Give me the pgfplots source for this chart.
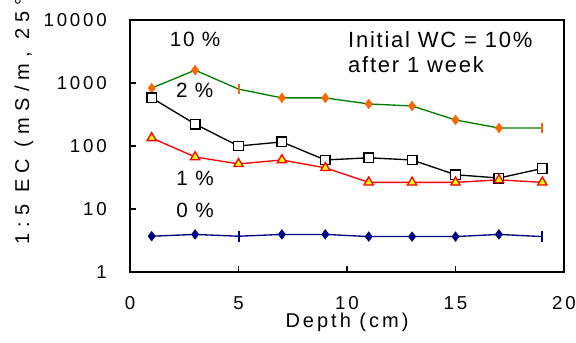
\documentclass[border=0pt]{standalone}
\usepackage{fontspec}
\setmainfont{Liberation Sans}
\newfontfamily\spA[LetterSpace=15]{Liberation Sans}
\newfontfamily\spB[LetterSpace=8]{Liberation Sans}
\newfontfamily\spC[LetterSpace=31]{Liberation Sans}
\usepackage{pgfplots}
\pgfplotsset{compat=1.18}
\definecolor{cgreen}{RGB}{0,128,0}
\definecolor{corange}{RGB}{255,102,0}
\definecolor{cnavy}{RGB}{0,0,128}
\definecolor{cyellow}{RGB}{255,255,0}
\begin{document}
\begin{tikzpicture}
\begin{axis}[
  name=ax,
  scale only axis,
  width=325.5pt, height=189pt,
  xmin=0, xmax=20, ymin=1, ymax=10000,
  ymode=log,
  xtick={0,5,10,15,20},
  xticklabels={{0},{5},{10},{15},{20}},
  ytick={1,10,100,1000,10000},
  yticklabels={{1},{10},{100},{1000},{10000}},
  yminorticks=false,
  xtick pos=left, ytick pos=left,
  tick align=inside,
  major tick length=4.5pt,
  tick style={black, line width=1pt},
  axis line style={line width=1.2pt},
  /pgf/number format/assume math mode=true,
  xticklabel style={font=\spA\fontsize{14}{16}\selectfont, anchor=base, inner sep=0pt, yshift=-27.75pt},
  yticklabel style={font=\spA\fontsize{14}{16}\selectfont, anchor=east, inner sep=0pt, xshift=-17.25pt},
  xlabel={Depth (cm)},
  xlabel style={font=\spA\fontsize{15}{17}\selectfont, at={(axis description cs:0.5,0)}, anchor=base, inner sep=0pt, yshift=-41.5pt},
  clip=false,
]
% 10 % (green line, orange diamonds)
\addplot[cgreen, line width=1pt, mark=none] coordinates {
(1,830) (3,1600) (5,800) (7,580) (9,580) (11,465) (13,432) (15,259) (17,193) (19,193)};
\addplot[only marks, mark=diamond*, mark size=3.6pt, color=corange, mark options={fill=corange, draw=corange}] coordinates {
(1,830) (3,1600) (7,580) (9,580) (11,465) (13,432) (15,259) (17,193)};
\addplot[only marks, mark=|, mark size=4pt, color=corange, mark options={line width=1.5pt}] coordinates {
(5,800) (19,193)};
% 2 % (black squares)
\addplot[black, line width=1pt, mark=square*, mark size=3.6pt, mark options={fill=white, draw=black, line width=1pt}] coordinates {
(1,580) (3,223) (5,100) (7,116) (9,60) (11,65) (13,60) (15,35) (17,31) (19,44)};
% 1 % (red line, yellow triangles)
\addplot[red, line width=1pt, mark=triangle*, mark size=4pt, mark options={fill=cyellow, draw=red, line width=1pt}] coordinates {
(1,134) (3,67) (5,52) (7,60) (9,45) (11,26.5) (13,26.5) (15,26.5) (17,29) (19,26.5)};
% 0 % (navy)
\addplot[cnavy, line width=1pt, mark=none] coordinates {
(1,3.7) (3,3.95) (5,3.7) (7,3.95) (9,3.95) (11,3.65) (13,3.65) (15,3.65) (17,3.95) (19,3.65)};
\addplot[only marks, mark=diamond*, mark size=3.6pt, color=cnavy, mark options={fill=cnavy, draw=cnavy}] coordinates {
(1,3.7) (3,3.95) (7,3.95) (9,3.95) (11,3.65) (13,3.65) (15,3.65) (17,3.95)};
\addplot[only marks, mark=|, mark size=4pt, color=cnavy, mark options={line width=1.5pt}] coordinates {
(5,3.7) (19,3.65)};
% annotations
\node[font=\spB\fontsize{15.5}{17}\selectfont, anchor=base, inner sep=0pt] at (rel axis cs:0.15,0.893) {10 \%};
\node[font=\spB\fontsize{15.5}{17}\selectfont, anchor=base, inner sep=0pt] at (rel axis cs:0.149,0.694) {2 \%};
\node[font=\spB\fontsize{15.5}{17}\selectfont, anchor=base, inner sep=0pt] at (rel axis cs:0.15,0.345) {1 \%};
\node[font=\spB\fontsize{15.5}{17}\selectfont, anchor=base, inner sep=0pt] at (rel axis cs:0.15,0.218) {0 \%};
\node[font=\spB\fontsize{16.5}{18}\selectfont, anchor=base west, inner sep=0pt] at (rel axis cs:0.502,0.889) {Initial WC = 10\%};
\node[font=\spB\fontsize{16.5}{18}\selectfont, anchor=base west, inner sep=0pt] at (rel axis cs:0.502,0.790) {after 1 week};
\node[font=\spC\fontsize{15}{17}\selectfont, rotate=90, anchor=base west, inner sep=0pt] at (rel axis cs:-0.2327,0.107) {1:5 EC (mS/m, 25\textdegree C)};
\end{axis}
\pgfresetboundingbox
\path[use as bounding box] ([shift={(-97.5pt,-52.5pt)}]ax.south west) rectangle ([shift={(9pt,15pt)}]ax.north east);
\end{tikzpicture}
\end{document}
